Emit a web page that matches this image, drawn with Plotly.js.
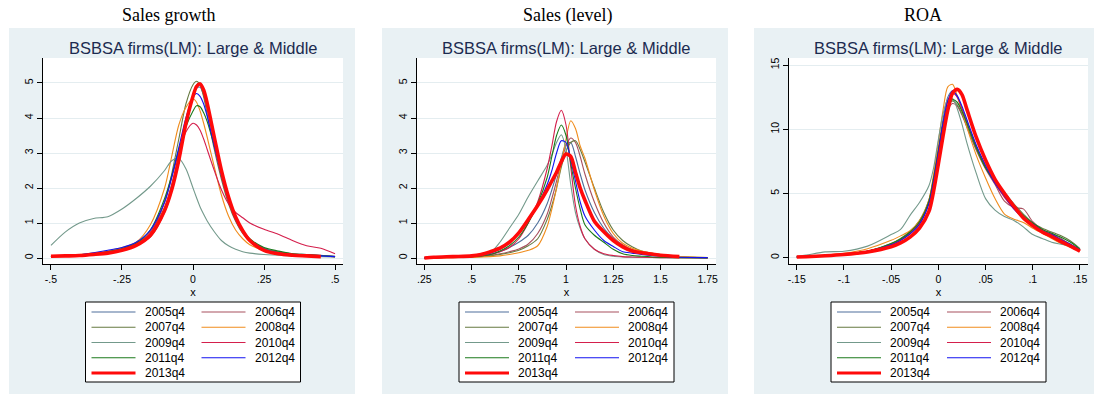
<!DOCTYPE html>
<html>
<head>
<meta charset="utf-8">
<script src="https://cdn.plot.ly/plotly-3.0.1.min.js"></script>
<style>html,body{margin:0;padding:0;background:#fff;}#chart{width:1094px;height:394px;}</style>
</head>
<body>
<div id="chart"></div>
<script>
// ---------- data ----------
const seriesNames = ['2005q4','2006q4','2007q4','2008q4','2009q4','2010q4','2011q4','2012q4','2013q4'];

const panelHeaders = ['Sales growth', 'Sales (level)', 'ROA'];
const panelTitle = 'BSBSA firms(LM): Large & Middle';
const xAxisLabel = 'x';

// Panel 1: Sales growth
const sgX = [-0.5,-0.45,-0.4,-0.35,-0.3,-0.25,-0.2,-0.15,-0.1,-0.075,-0.05,-0.025,0,0.0125,0.025,0.0375,0.05,0.075,0.1,0.125,0.15,0.175,0.2,0.25,0.3,0.35,0.4,0.45,0.5];
const sg2005 = [0.05,0.06,0.08,0.12,0.18,0.26,0.42,0.7,1.45,2.1,2.95,3.9,4.6,4.85,4.88,4.65,4.25,3.3,2.45,1.7,1.15,0.78,0.52,0.28,0.18,0.12,0.1,0.08,0.05];
const sg2006 = [0.05,0.06,0.08,0.12,0.17,0.25,0.38,0.6,1.3,1.9,2.75,3.8,4.6,4.95,5.0,4.8,4.4,3.4,2.5,1.75,1.2,0.8,0.52,0.25,0.15,0.1,0.08,0.06,0.04];
const sg2007 = [0.04,0.05,0.07,0.1,0.15,0.22,0.35,0.7,1.6,2.4,3.4,4.4,4.95,5.05,4.95,4.6,4.1,3.1,2.25,1.55,1.05,0.7,0.48,0.25,0.18,0.12,0.08,0.06,0.04];
const sg2008 = [0.05,0.07,0.1,0.14,0.2,0.3,0.45,0.95,2.0,2.9,3.8,4.3,4.55,4.45,4.2,3.85,3.45,2.6,1.8,1.2,0.8,0.55,0.38,0.22,0.15,0.1,0.07,0.05,0.04];
const sg2009 = [0.36,0.74,1.0,1.13,1.18,1.4,1.7,2.05,2.5,2.78,2.84,2.55,2.0,1.72,1.46,1.25,1.06,0.75,0.5,0.35,0.25,0.18,0.14,0.1,0.08,0.06,0.05,0.04,0.03];
const sg2010 = [0.05,0.06,0.08,0.12,0.18,0.25,0.4,0.75,1.6,2.3,3.0,3.6,3.85,3.8,3.65,3.4,3.1,2.5,1.95,1.55,1.3,1.15,1.0,0.82,0.68,0.5,0.35,0.28,0.12];
const sg2011 = [0.05,0.06,0.08,0.12,0.18,0.27,0.42,0.8,1.7,2.35,3.1,3.75,4.2,4.35,4.32,4.15,3.9,3.2,2.45,1.75,1.2,0.8,0.55,0.3,0.2,0.12,0.1,0.07,0.04];
const sg2012 = [0.05,0.06,0.09,0.15,0.22,0.3,0.45,0.8,1.6,2.3,3.15,4.0,4.6,4.7,4.62,4.4,4.05,3.2,2.35,1.65,1.1,0.75,0.5,0.25,0.15,0.1,0.08,0.06,0.04];
const sg2013 = [0.05,0.06,0.07,0.1,0.14,0.22,0.36,0.65,1.36,1.95,2.8,3.84,4.62,4.9,4.97,4.8,4.42,3.45,2.5,1.74,1.17,0.78,0.5,0.22,0.12,0.08,0.06,0.04,null];

// Panel 2: Sales (level)
const slX = [0.25,0.3,0.4,0.5,0.55,0.6,0.65,0.7,0.75,0.8,0.85,0.9,0.925,0.95,0.975,1.0,1.025,1.05,1.075,1.1,1.15,1.2,1.25,1.3,1.35,1.4,1.5,1.6,1.75];
const sl2005 = [0,0.01,0.02,0.04,0.06,0.1,0.18,0.3,0.45,0.65,1.0,1.55,1.95,2.4,2.85,3.25,3.3,2.9,2.4,1.95,1.3,0.85,0.55,0.35,0.22,0.15,0.07,0.03,0.01];
const sl2006 = [0,0.01,0.02,0.03,0.05,0.08,0.12,0.18,0.26,0.4,0.7,1.25,1.7,2.2,2.75,3.2,3.43,3.3,2.9,2.4,1.6,1.0,0.6,0.38,0.24,0.15,0.07,0.03,0.01];
const sl2007 = [0,0.01,0.02,0.03,0.04,0.06,0.1,0.15,0.22,0.35,0.55,1.1,1.5,2.0,2.6,3.05,3.3,3.35,3.1,2.75,2.0,1.3,0.8,0.5,0.32,0.2,0.1,0.04,0.01];
const sl2008 = [0,0,0.01,0.02,0.03,0.04,0.06,0.1,0.15,0.22,0.35,0.9,1.4,2.0,2.7,3.4,3.92,3.7,3.2,2.85,1.95,1.2,0.7,0.42,0.28,0.2,0.1,0.04,0.01];
const sl2009 = [0,0.01,0.02,0.04,0.07,0.15,0.45,0.85,1.25,1.75,2.2,2.65,2.95,3.3,3.52,3.1,2.1,1.3,0.85,0.55,0.25,0.1,0.05,0.03,0.02,0.02,0.01,0.01,0];
const sl2010 = [0,0.01,0.02,0.04,0.06,0.1,0.18,0.3,0.55,1.0,1.6,2.55,3.2,3.9,4.22,3.8,2.6,1.5,0.9,0.55,0.25,0.12,0.07,0.04,0.03,0.02,0.01,0.01,0];
const sl2011 = [0,0.01,0.02,0.04,0.06,0.1,0.2,0.35,0.6,1.0,1.55,2.3,2.9,3.5,3.8,3.5,2.7,2.0,1.4,0.95,0.65,0.45,0.25,0.12,0.07,0.05,0.02,0.01,0];
const sl2012 = [0,0.01,0.02,0.05,0.08,0.14,0.25,0.42,0.7,1.05,1.5,2.1,2.5,3.0,3.35,3.3,2.8,2.2,1.6,1.2,0.8,0.5,0.33,0.18,0.14,0.1,0.05,0.02,0.01];
const sl2013 = [0,0.02,0.04,0.06,0.1,0.18,0.28,0.45,0.72,1.1,1.5,1.95,2.2,2.45,2.75,2.97,2.9,2.45,2.0,1.65,1.05,0.75,0.5,0.32,0.2,0.15,0.08,0.04,null];

// Panel 3: ROA
const roaX = [-0.15,-0.14,-0.12,-0.1,-0.075,-0.05,-0.04,-0.03,-0.02,-0.01,-0.005,0,0.005,0.01,0.015,0.02,0.025,0.03,0.04,0.05,0.06,0.07,0.08,0.09,0.1,0.11,0.12,0.13,0.14,0.15];
const roa2005 = [0.05,0.08,0.15,0.28,0.5,1.0,1.35,1.85,2.6,4.3,6.2,8.5,10.8,12.5,13.0,12.5,11.6,10.6,8.7,7.1,5.8,4.8,3.9,3.2,2.6,2.1,1.8,1.4,1.05,0.6];
const roa2006 = [0.05,0.08,0.15,0.28,0.5,1.05,1.4,1.95,2.75,4.4,6.2,8.3,10.2,11.5,12.0,11.8,11.1,10.2,8.4,6.9,5.7,4.4,3.9,3.8,2.8,2.2,1.9,1.5,1.0,0.6];
const roa2007 = [0.05,0.08,0.15,0.28,0.5,1.1,1.5,2.05,2.9,4.5,6.3,8.4,10.4,11.7,12.2,11.9,11.2,10.3,8.5,7.0,5.9,5.1,4.2,3.4,2.7,2.3,2.0,1.7,1.3,0.7];
const roa2008 = [0.05,0.1,0.2,0.35,0.7,1.35,1.7,2.1,2.9,4.5,6.5,9.0,11.5,13.3,13.5,12.6,11.4,10.2,8.0,6.2,4.6,3.4,3.0,2.75,2.3,1.9,1.5,1.1,0.8,0.5];
const roa2009 = [0.1,0.2,0.45,0.5,0.9,1.8,2.2,3.3,4.3,5.6,7.0,9.2,11.2,12.3,12.4,11.6,10.4,9.0,6.6,4.6,3.7,3.2,2.9,2.4,1.8,1.5,1.2,1.05,0.9,0.6];
const roa2010 = [0.05,0.08,0.15,0.28,0.5,1.0,1.35,1.9,2.7,4.3,6.1,8.3,10.5,12.2,12.8,12.5,11.6,10.6,8.7,7.1,5.8,4.7,3.8,3.1,2.6,2.1,1.8,1.4,1.0,0.6];
const roa2011 = [0.05,0.08,0.15,0.28,0.5,1.1,1.45,2.0,2.8,4.4,6.2,8.3,10.4,11.8,12.3,12.1,11.4,10.5,8.6,7.0,5.9,5.0,4.0,3.3,2.7,2.2,1.9,1.6,1.2,0.65];
const roa2012 = [0.05,0.08,0.15,0.28,0.5,1.0,1.35,1.85,2.6,4.2,6.0,8.2,10.5,12.2,13.0,12.6,11.8,10.8,8.8,7.2,5.8,4.8,3.8,3.1,2.6,2.1,1.8,1.4,1.05,0.6];
const roa2013 = [0.05,0.08,0.15,0.25,0.45,0.85,1.15,1.6,2.3,3.6,5.2,7.3,9.5,11.5,12.8,13.1,12.7,11.6,9.4,7.6,6.1,5.0,4.0,3.1,2.5,2.0,1.65,1.25,0.9,0.5];

// tick labels
const sgTickVals = [-0.5,-0.25,0,0.25,0.5];
const sgTickText = ['-.5','-.25','0','.25','.5'];
const slTickVals = [0.25,0.5,0.75,1,1.25,1.5,1.75];
const slTickText = ['.25','.5','.75','1','1.25','1.5','1.75'];
const roaTickVals = [-0.15,-0.1,-0.05,0,0.05,0.1,0.15];
const roaTickText = ['-.15','-.1','-.05','0','.05','.1','.15'];
const densTickVals = [0,1,2,3,4,5];
const roaYTickVals = [0,5,10,15];

// ---------- styles ----------
const seriesColors = ['#4f6f9c','#a8505e','#667a40','#f08c1c','#73998b','#d41f4c','#1b7a1b','#1212f0','#ff0a0a'];
const seriesWidths = [1.1,1.1,1.1,1.1,1.1,1.1,1.1,1.1,3.6];

const W = 1094, H = 394;
const px = v => v / W;
const py = v => 1 - v / H;

const panels = [
  {xa:'x',  ya:'y',  X:sgX,  Y:[sg2005,sg2006,sg2007,sg2008,sg2009,sg2010,sg2011,sg2012,sg2013],
   plotL:43, plotR:343, bgL:9, bgR:355, xr:[-0.528,0.528], yr:[-0.171,5.714], tv:sgTickVals, tt:sgTickText, ytv:densTickVals, hx:169},
  {xa:'x2', ya:'y2', X:slX,  Y:[sl2005,sl2006,sl2007,sl2008,sl2009,sl2010,sl2011,sl2012,sl2013],
   plotL:417, plotR:716, bgL:382, bgR:728, xr:[0.211,1.794], yr:[-0.171,5.714], tv:slTickVals, tt:slTickText, ytv:densTickVals, hx:567},
  {xa:'x3', ya:'y3', X:roaX, Y:[roa2005,roa2006,roa2007,roa2008,roa2009,roa2010,roa2011,roa2012,roa2013],
   plotL:789, plotR:1088, bgL:754, bgR:1094, xr:[-0.1582,0.1585], yr:[-0.49,15.545], tv:roaTickVals, tt:roaTickText, ytv:roaYTickVals, hx:923}
];

const plotTop = 58, plotBot = 264;
const traces = [];
const shapes = [];
const annotations = [];
const layout = {
  width: W, height: H,
  margin: {l:0, r:0, t:0, b:0},
  paper_bgcolor: '#ffffff',
  plot_bgcolor: 'rgba(0,0,0,0)',
  showlegend: false,
  font: {family: 'Liberation Sans, Arial, sans-serif', color: '#000'}
};

panels.forEach((p, pi) => {
  p.Y.forEach((ys, si) => {
    traces.push({
      type: 'scatter', mode: 'lines', x: p.X, y: ys,
      xaxis: p.xa, yaxis: p.ya, name: seriesNames[si],
      line: {color: seriesColors[si], width: seriesWidths[si], shape: 'spline', smoothing: 0.8},
      hoverinfo: 'skip', connectgaps: false
    });
  });
  const sfx = pi === 0 ? '' : String(pi + 1);
  layout['xaxis' + sfx] = {
    domain: [px(p.plotL), px(p.plotR)], anchor: p.ya, range: p.xr,
    showgrid: false, zeroline: false, showline: true, linecolor: '#000', linewidth: 1,
    ticks: 'outside', ticklen: 5, tickcolor: '#000', tickwidth: 1,
    tickmode: 'array', tickvals: p.tv, ticktext: p.tt,
    tickfont: {size: 10.5, family: 'Liberation Sans Narrow, Liberation Sans, Arial, sans-serif'},
    title: {text: xAxisLabel, font: {size: 11}, standoff: 4},
    automargin: false, fixedrange: true
  };
  layout['yaxis' + sfx] = {
    domain: [1 - plotBot / H, 1 - plotTop / H], anchor: p.xa, range: p.yr,
    showgrid: true, gridcolor: '#e4edf0', gridwidth: 1, zeroline: false,
    showline: true, linecolor: '#000', linewidth: 1,
    ticks: 'outside', ticklen: 5, tickcolor: '#000', tickwidth: 1,
    tickmode: 'array', tickvals: p.ytv, tickangle: -90,
    tickfont: {size: 10.5, family: 'Liberation Sans Narrow, Liberation Sans, Arial, sans-serif'},
    automargin: false, fixedrange: true
  };
  // panel background
  shapes.push({type:'rect', xref:'paper', yref:'paper', layer:'below',
    x0: px(p.bgL), x1: px(p.bgR), y0: 0, y1: py(28),
    fillcolor: '#e9f1f4', line: {width: 0}});
  // white plot region
  shapes.push({type:'rect', xref:'paper', yref:'paper', layer:'below',
    x0: px(p.plotL), x1: px(p.plotR), y0: py(plotBot), y1: py(plotTop),
    fillcolor: '#ffffff', line: {width: 0}});
  // header above panel
  annotations.push({xref:'paper', yref:'paper', x: px(p.hx), y: py(15), text: panelHeaders[pi],
    showarrow:false, xanchor:'center', yanchor:'middle',
    font:{family:'Liberation Serif, Times New Roman, serif', size:18, color:'#000'}});
  // plot title
  const cx = (p.plotL + p.plotR) / 2;
  annotations.push({xref:'paper', yref:'paper', x: px(cx), y: py(48), text: panelTitle,
    showarrow:false, xanchor:'center', yanchor:'middle',
    font:{family:'Liberation Sans, Arial, sans-serif', size:16.5, color:'#1c2b50'}});
  // legend box
  const legL = cx - 107.5, legR = cx + 107.5, legT = 302, legB = 382;
  shapes.push({type:'rect', xref:'paper', yref:'paper', layer:'above',
    x0: px(legL), x1: px(legR), y0: py(legB), y1: py(legT),
    fillcolor: '#ffffff', line: {color: '#000', width: 1}});
  seriesNames.forEach((nm, si) => {
    const row = Math.floor(si / 2), col = si % 2;
    const yy = legT + 10 + row * 15.25;
    const lx = legL + 6 + col * 110;
    shapes.push({type:'line', xref:'paper', yref:'paper', layer:'above',
      x0: px(lx), x1: px(lx + 44), y0: py(yy), y1: py(yy),
      line: {color: seriesColors[si], width: si === 8 ? 3 : 1.2}});
    annotations.push({xref:'paper', yref:'paper', x: px(lx + 51), y: py(yy), text: nm,
      showarrow:false, xanchor:'left', yanchor:'middle',
      font:{family:'Liberation Sans, Arial, sans-serif', size:12, color:'#000'}});
  });
});

layout.shapes = shapes;
layout.annotations = annotations;

Plotly.newPlot('chart', traces, layout, {staticPlot: true, displayModeBar: false});
</script>
</body>
</html>
